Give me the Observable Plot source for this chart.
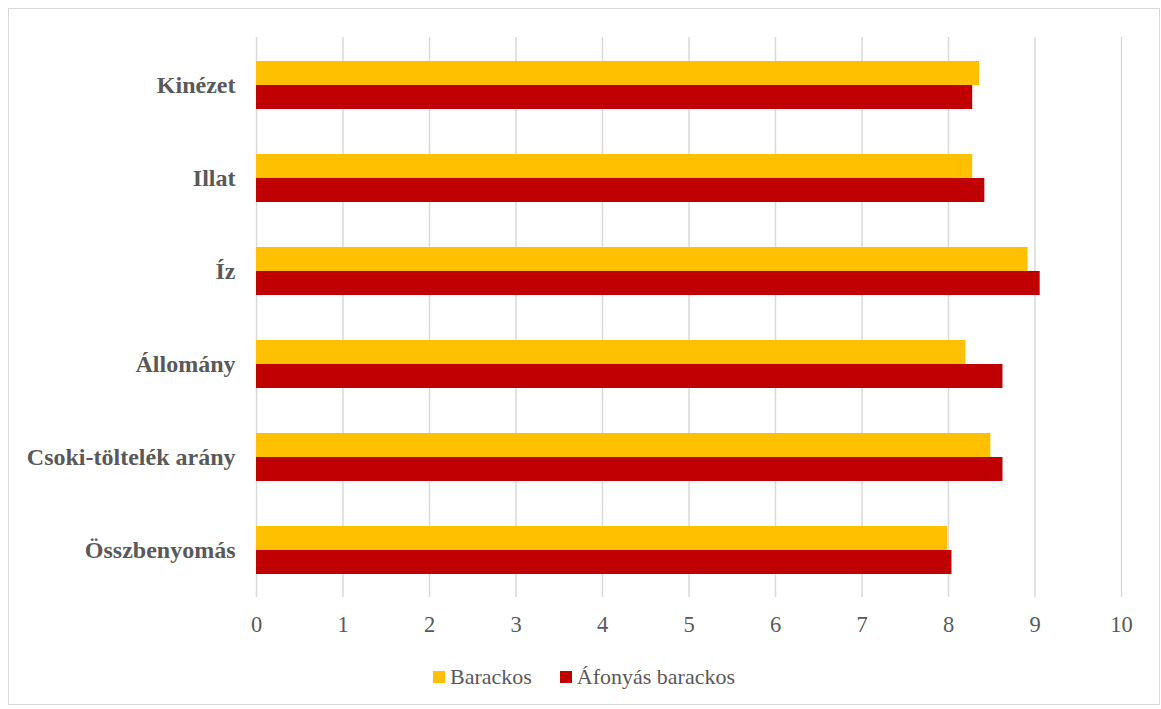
<!DOCTYPE html>
<html>
<head>
<meta charset="utf-8">
<script src="https://cdn.jsdelivr.net/npm/d3@7"></script>
<script src="https://cdn.jsdelivr.net/npm/@observablehq/plot@0.6"></script>
<style>
  html, body { margin: 0; padding: 0; background: #fff; }
  #frame {
    position: absolute; left: 8px; top: 8px; width: 1150px; height: 695px;
    border: 1px solid #d9d9d9; background: #fff;
    font-family: "Liberation Serif", "Times New Roman", serif;
  }
  #legend {
    position: absolute; left: 0; right: 0; top: 653px; height: 30px;
    display: flex; justify-content: center; align-items: center; gap: 28px;
    font-size: 22px; color: #595959;
  }
  .item { display: flex; align-items: center; }
  .sw { width: 12px; height: 12px; margin-right: 5px; }
</style>
</head>
<body>
<div id="frame">
  <div id="chart"></div>
  <div id="legend"></div>
</div>
<script>
const categories = ["Kinézet", "Illat", "Íz", "Állomány", "Csoki-töltelék arány", "Összbenyomás"];
const seriesNames = ["Barackos", "Áfonyás barackos"];
const barackos = [8.36, 8.28, 8.92, 8.20, 8.49, 7.99];
const afonyas = [8.28, 8.42, 9.06, 8.63, 8.63, 8.04];
const xTicks = [0, 1, 2, 3, 4, 5, 6, 7, 8, 9, 10];
const colors = ["#FFC000", "#C00000"];

const dataB = categories.map((c, i) => ({category: c, value: barackos[i]}));
const dataA = categories.map((c, i) => ({category: c, value: afonyas[i]}));

const plot = Plot.plot({
  width: 1150,
  height: 640,
  marginLeft: 247,
  marginRight: 38,
  marginTop: 28,
  marginBottom: 52,
  style: {fontFamily: '"Liberation Serif", "Times New Roman", serif', background: "#fff"},
  x: {domain: [0, 10], ticks: xTicks, label: null},
  y: {domain: categories, paddingInner: 0.486, paddingOuter: 0.243, label: null},
  marks: [
    Plot.ruleX(xTicks, {stroke: "#d9d9d9", strokeWidth: 1.5}),
    Plot.barX(dataB, {y: "category", x: "value", fill: colors[0], insetBottom: 24, insetTop: 0}),
    Plot.barX(dataA, {y: "category", x: "value", fill: colors[1], insetTop: 24, insetBottom: 0}),
    Plot.axisX({ticks: xTicks, tickSize: 0, tickPadding: 19, fontSize: 22.5, color: "#595959", label: null}),
    Plot.axisY({tickSize: 0, tickPadding: 21, fontSize: 24, fontWeight: "bold", color: "#595959", label: null})
  ]
});
document.getElementById("chart").appendChild(plot);

const legend = document.getElementById("legend");
seriesNames.forEach((n, i) => {
  const it = document.createElement("div");
  it.className = "item";
  const sw = document.createElement("span");
  sw.className = "sw";
  sw.style.background = colors[i];
  const t = document.createElement("span");
  t.textContent = n;
  it.appendChild(sw); it.appendChild(t);
  legend.appendChild(it);
});
</script>
</body>
</html>
